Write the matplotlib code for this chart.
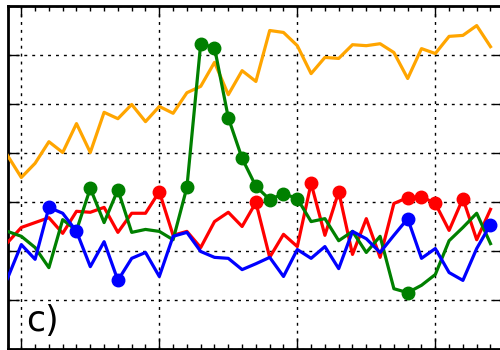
import numpy as np
import matplotlib
matplotlib.use("Agg")
import matplotlib.pyplot as plt
from matplotlib.ticker import MultipleLocator

# sample index along the horizontal axis
x = np.arange(-1, 35)

orange_vals = [3.94, 3.49, 3.78, 4.22, 4.00, 4.59, 4.00, 4.82, 4.69, 4.98,
               4.63, 4.94, 4.80, 5.22, 5.35, 5.84, 5.18, 5.67, 5.45, 6.49,
               6.45, 6.18, 5.61, 5.94, 5.92, 6.20, 6.18, 6.22, 6.04, 5.51,
               6.12, 6.02, 6.37, 6.39, 6.59, 6.16]

red_vals = [2.16, 2.47, 2.57, 2.67, 2.35, 2.80, 2.78, 2.88, 2.37, 2.76,
            2.76, 3.20, 2.31, 2.39, 2.06, 2.59, 2.78, 2.49, 2.98, 1.86,
            2.33, 2.08, 3.37, 2.31, 3.20, 1.92, 2.65, 1.86, 2.96, 3.08,
            3.10, 2.96, 2.41, 3.06, 2.22, 2.84]

green_vals = [2.39, 2.29, 2.06, 1.65, 2.63, 2.41, 3.27, 2.57, 3.24, 2.37,
              2.43, 2.39, 2.22, 3.29, 6.22, 6.14, 4.71, 3.88, 3.31, 3.04,
              3.16, 3.06, 2.59, 2.65, 2.20, 2.39, 1.96, 2.29, 1.22, 1.14,
              1.29, 1.51, 2.20, 2.47, 2.76, 2.14]

blue_vals = [1.43, 2.12, 1.82, 2.88, 2.76, 2.39, 1.67, 2.18, 1.39, 1.84,
             1.96, 1.47, 2.29, 2.37, 1.98, 1.86, 1.84, 1.61, 1.73, 1.86,
             1.47, 2.02, 1.84, 2.08, 1.63, 2.39, 2.24, 1.96, 2.31, 2.65,
             1.84, 2.04, 1.55, 1.39, 2.04, 2.53]

# indices of highlighted samples in each series
red_marks = [11, 18, 22, 24, 29, 30, 31, 33]
green_marks = [6, 8, 13, 14, 15, 16, 17, 18, 19, 20, 21, 29]
blue_marks = [3, 5, 8, 29, 35]

panel_label = "c)"

fig = plt.figure(figsize=(5.0, 3.5), dpi=100)
ax = fig.add_axes([7.5 / 500, 1.5 / 350, 496.8 / 500, 343 / 350])

lw = 2.3
ms = 9
ax.plot(x, orange_vals, color="orange", lw=lw, zorder=3)
ax.plot(x, red_vals, color="red", lw=lw, marker="o", ms=ms,
        markevery=red_marks, zorder=4)
ax.plot(x, green_vals, color="green", lw=lw, marker="o", ms=ms,
        markevery=green_marks, zorder=5)
ax.plot(x, blue_vals, color="blue", lw=lw, marker="o", ms=ms,
        markevery=blue_marks, zorder=6)

ax.set_xlim(-1, 35)
ax.set_ylim(0, 7)
ax.xaxis.set_major_locator(MultipleLocator(10))
ax.xaxis.set_minor_locator(MultipleLocator(1))
ax.yaxis.set_major_locator(MultipleLocator(1))
ax.yaxis.set_minor_locator(plt.NullLocator())

ax.tick_params(which="both", direction="in", top=True, right=True,
               labelbottom=False, labelleft=False, width=1.0, color="black")
ax.tick_params(which="major", length=8)
ax.tick_params(which="minor", length=3.5)

ax.grid(True, which="major", color="black", lw=1.0,
        linestyle=(0, (2.1, 3.6)))
ax.set_axisbelow(True)

for sp in ax.spines.values():
    sp.set_linewidth(2.0)

ax.text(0.037, 0.052, panel_label, transform=ax.transAxes, fontsize=25,
        ha="left", va="baseline", family="DejaVu Sans", zorder=7)

fig.savefig("out.png", dpi=100)
